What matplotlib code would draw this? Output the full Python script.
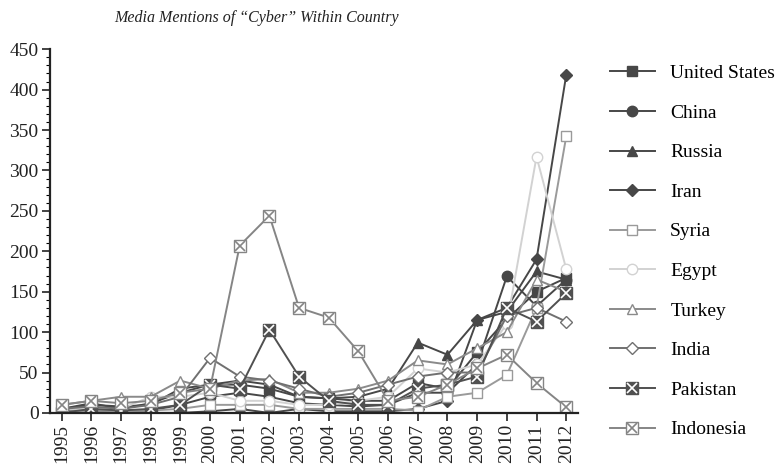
import numpy as np
import matplotlib
matplotlib.use("Agg")
import matplotlib.pyplot as plt
from matplotlib.legend_handler import HandlerTuple
from matplotlib.ticker import MultipleLocator

years = np.arange(1995, 2013)

united_states = [5, 12, 5, 12, 25, 35, 35, 30, 20, 18, 15, 15, 37, 30, 75, 116, 150, 167]
china = [3, 3, 2, 3, 10, 20, 25, 20, 12, 10, 8, 10, 25, 25, 60, 169, 132, 165]
russia = [5, 10, 8, 10, 30, 35, 40, 35, 20, 18, 20, 30, 87, 72, 115, 125, 175, 165]
iran = [0, 0, 0, 0, 0, 2, 5, 0, 5, 2, 2, 2, 5, 15, 115, 130, 190, 418]
syria = [2, 3, 2, 3, 5, 10, 10, 10, 5, 5, 5, 5, 3, 20, 25, 47, 130, 342]
egypt = [5, 5, 5, 20, 20, 25, 15, 15, 10, 10, 15, 20, 55, 50, 60, 110, 317, 178]
turkey = [10, 15, 20, 20, 40, 30, 40, 42, 25, 25, 30, 40, 65, 60, 80, 100, 165, 150]
india = [5, 8, 5, 10, 20, 68, 45, 40, 30, 20, 25, 35, 45, 50, 50, 120, 130, 113]
pakistan = [0, 5, 3, 5, 10, 35, 30, 103, 45, 15, 10, 10, 30, 35, 45, 130, 113, 148]
indonesia = [10, 15, 12, 15, 25, 30, 207, 244, 130, 118, 76, 15, 20, 35, 55, 72, 37, 7]

plt.rcParams['font.family'] = ['Liberation Serif', 'DejaVu Serif']

fig = plt.figure(figsize=(7.77, 4.73), dpi=100)
ax = fig.add_axes([0.064, 0.127, 0.68, 0.769])

dark = '#474747'
series = [
    ("United States", united_states, 's', dark, dark),
    ("China", china, 'o', dark, dark),
    ("Russia", russia, '^', dark, dark),
    ("Iran", iran, 'D', dark, dark),
    ("Syria", syria, 's', '#9a9a9a', 'white'),
    ("Egypt", egypt, 'o', '#d2d2d2', 'white'),
    ("Turkey", turkey, '^', '#8a8a8a', 'white'),
    ("India", india, 'D', '#707070', 'white'),
]

handles = []
labels = []
for name, vals, mk, col, fc in series:
    ms = 6 if mk == 'D' else 7.5
    line, = ax.plot(years, vals, marker=mk, color=col, markerfacecolor=fc,
                    markeredgecolor=col, markersize=ms, lw=1.4)
    handles.append(line)
    labels.append(name)

# square + cross markers
for name, vals, col, fc in [("Pakistan", pakistan, '#505050', '#505050'),
                            ("Indonesia", indonesia, '#858585', 'white')]:
    line, = ax.plot(years, vals, marker='s', color=col, markerfacecolor=fc,
                    markeredgecolor=col, markersize=8, lw=1.4)
    cross, = ax.plot(years, vals, ls='none', marker='x', color='white' if fc != 'white' else col,
                     markersize=6.5, mew=1.2)
    handles.append((line, cross))
    labels.append(name)

ax.set_xlim(1994.6, 2012.4)
ax.set_ylim(0, 450)
ax.set_xticks(years)
ax.set_xticklabels([str(y) for y in years], rotation=90, fontsize=14)
ax.yaxis.set_major_locator(MultipleLocator(50))
ax.yaxis.set_minor_locator(MultipleLocator(10))
ax.tick_params(axis='y', labelsize=14, length=6, width=1.2, direction='out', pad=2)
ax.tick_params(axis='y', which='minor', length=3, width=0.8)
ax.tick_params(axis='x', length=6, width=1.2, direction='out', pad=2)
for s in ['top', 'right']:
    ax.spines[s].set_visible(False)
for s in ['left', 'bottom']:
    ax.spines[s].set_linewidth(1.6)
    ax.spines[s].set_color('#222222')
ax.tick_params(colors='#222222')

fig.text(0.33, 0.963, "Media Mentions of \u201cCyber\u201d Within Country",
         ha='center', va='center', fontsize=11.5, style='italic', color='#222222')

fig.legend(handles, labels, loc='upper left', bbox_to_anchor=(0.775, 0.88),
           frameon=False, fontsize=14, labelspacing=1.13, handlelength=2.3,
           handletextpad=0.8, borderaxespad=0,
           handler_map={tuple: HandlerTuple(ndivide=1, pad=0)})

fig.savefig("out.png", dpi=100)
